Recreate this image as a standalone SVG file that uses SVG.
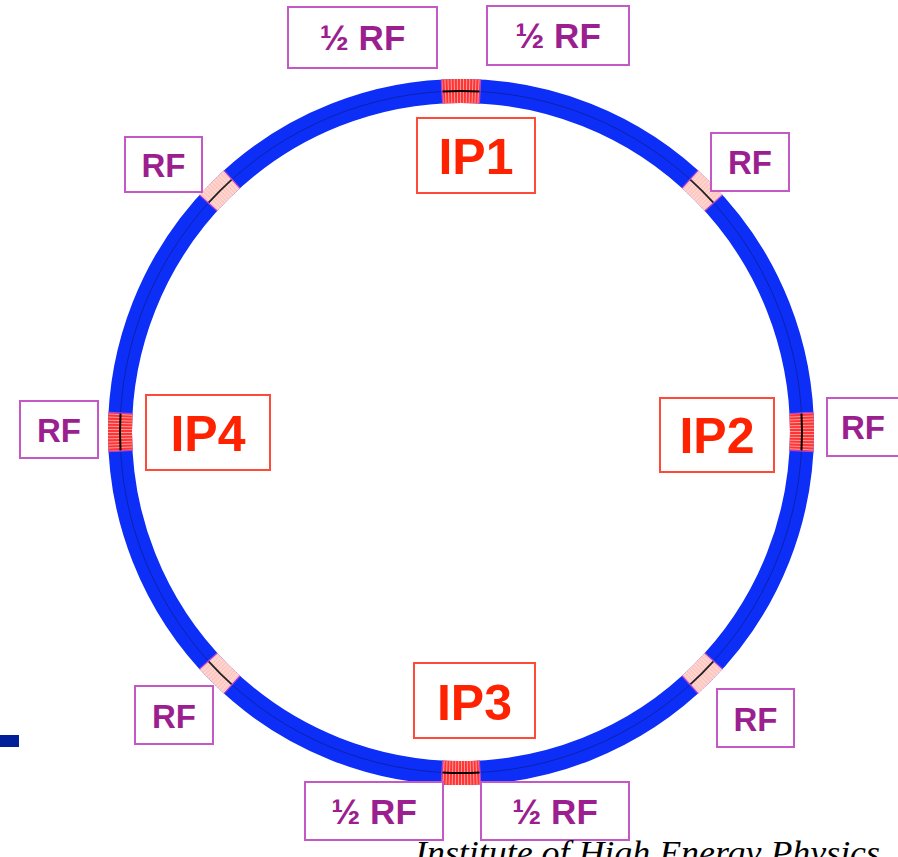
<svg xmlns="http://www.w3.org/2000/svg" width="898" height="857" viewBox="0 0 898 857">
<style>
.rfbox{fill:#fff;stroke:#c458c4;stroke-width:2}
.ipbox{fill:#fff;stroke:#ff4a3a;stroke-width:2}
.rft{font-family:"Liberation Sans",Arial,sans-serif;font-weight:bold;font-size:33px;fill:#9c1f90;text-anchor:middle}
.hft{font-family:"Liberation Sans",Arial,sans-serif;font-weight:bold;font-size:35px;fill:#9c1f90;text-anchor:middle}
.ipt{font-family:"Liberation Sans",Arial,sans-serif;font-weight:bold;font-size:50px;fill:#ff2200;text-anchor:middle}
</style>
<defs>
<g id="ipgap">
<path d="M801.47 412.97 A341 341 0 0 1 801.47 451.03" fill="none" stroke="#ff3434" stroke-width="24"/>
<path d="M801.47 412.97 A341 341 0 0 1 801.47 451.03" fill="none" stroke="#ff9a9a" stroke-width="24" stroke-dasharray="1 2"/>
<path d="M801.47 412.97 A341 341 0 0 1 801.47 451.03" fill="none" stroke="#000" stroke-width="2"/>
<path d="M789.5 413.6 L813.4 412.3 M789.5 450.4 L813.4 451.7" stroke="#b040d0" stroke-width="1.2"/>
</g>
<g id="rfgap">
<path d="M801.59 415.34 A341 341 0 0 1 801.59 448.66" fill="none" stroke="#ffc6c0" stroke-width="24"/>
<path d="M801.59 415.34 A341 341 0 0 1 801.59 448.66" fill="none" stroke="#ffdcd8" stroke-width="24" stroke-dasharray="1 2"/>
<path d="M801.59 415.34 A341 341 0 0 1 801.59 448.66" fill="none" stroke="#222" stroke-width="1.8"/>
<path d="M789.6 415.9 L813.6 414.7 M789.6 448.1 L813.6 449.3" stroke="#b040d0" stroke-width="1.2"/>
</g>
</defs>
<rect width="898" height="857" fill="#fff"/>
<g id="ring">
<circle cx="461" cy="432" r="341" fill="none" stroke="#0c2ef6" stroke-width="24"/>
<circle cx="461" cy="432" r="341" fill="none" stroke="#0a1a80" stroke-width="1" opacity="0.6"/>
<use href="#ipgap"/>
<use href="#ipgap" transform="rotate(90 461 432)"/>
<use href="#ipgap" transform="rotate(180 461 432)"/>
<use href="#ipgap" transform="rotate(270 461 432)"/>
<use href="#rfgap" transform="rotate(45 461 432)"/>
<use href="#rfgap" transform="rotate(135 461 432)"/>
<use href="#rfgap" transform="rotate(225 461 432)"/>
<use href="#rfgap" transform="rotate(315 461 432)"/>
</g>
<g id="ip1"><rect class="ipbox" x="417" y="118" width="118" height="75"/><text class="ipt" x="476" y="174">IP1</text></g>
<g id="ip2"><rect class="ipbox" x="660" y="398" width="114" height="74"/><text class="ipt" x="717" y="453">IP2</text></g>
<g id="ip3"><rect class="ipbox" x="414" y="663" width="121" height="75"/><text class="ipt" x="474.5" y="720">IP3</text></g>
<g id="ip4"><rect class="ipbox" x="146" y="395" width="124" height="75"/><text class="ipt" x="208" y="451">IP4</text></g>
<g id="rf_ul"><rect class="rfbox" x="125" y="137" width="77" height="55"/><text class="rft" x="163.5" y="177">RF</text></g>
<g id="rf_ur"><rect class="rfbox" x="711" y="133" width="78" height="58"/><text class="rft" x="750" y="174">RF</text></g>
<g id="rf_l"><rect class="rfbox" x="20" y="401" width="78" height="57"/><text class="rft" x="59" y="442">RF</text></g>
<g id="rf_r"><rect class="rfbox" x="827" y="398" width="72" height="58"/><text class="rft" x="863" y="439">RF</text></g>
<g id="rf_ll"><rect class="rfbox" x="135" y="686" width="78" height="58"/><text class="rft" x="174" y="728">RF</text></g>
<g id="rf_lr"><rect class="rfbox" x="717" y="689" width="77" height="58"/><text class="rft" x="755.5" y="731">RF</text></g>
<g id="half_tl"><rect class="rfbox" x="288" y="7" width="149" height="61"/><text class="hft" x="362.5" y="50">½ RF</text></g>
<g id="half_tr"><rect class="rfbox" x="487" y="6" width="142" height="59"/><text class="hft" x="558" y="48">½ RF</text></g>
<g id="half_bl"><rect class="rfbox" x="305" y="782" width="138" height="58"/><text class="hft" x="374" y="824">½ RF</text></g>
<g id="half_br"><rect class="rfbox" x="481" y="782" width="148" height="58"/><text class="hft" x="555" y="824">½ RF</text></g>
<rect x="0" y="735" width="19" height="12" fill="#00209a"/>
<text x="415" y="864" font-family="'Liberation Serif','Times New Roman',serif" font-style="italic" font-size="34" textLength="465" lengthAdjust="spacingAndGlyphs" fill="#000">Institute of High Energy Physics</text>
</svg>
